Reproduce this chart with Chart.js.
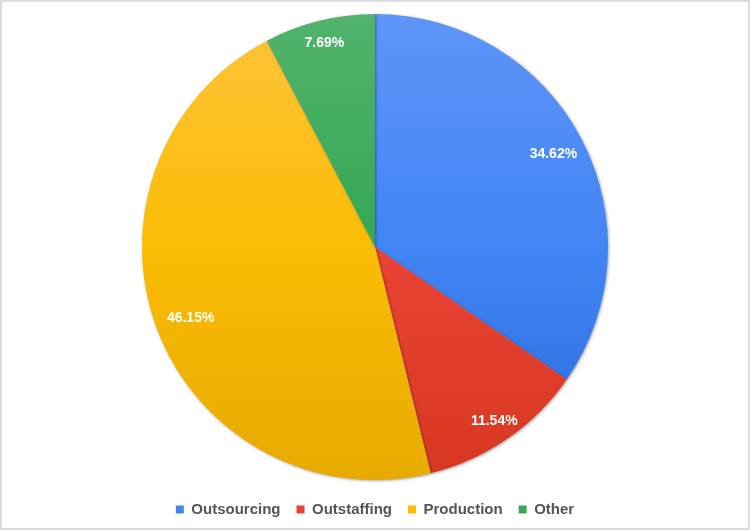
<!DOCTYPE html>
<html>
<head>
<meta charset="utf-8">
<script src="https://cdn.jsdelivr.net/npm/chart.js@4"></script>
<style>
  html, body { margin: 0; padding: 0; background: #fff; }
  #wrap { width: 750px; height: 530px; box-sizing: border-box; border: 2px solid #dcdcdc; position: relative; }
  canvas { display: block; }
</style>
</head>
<body>
<div id="wrap"><canvas id="pieChart" width="746" height="526"></canvas></div>
<script>
// datos
const categorias = ['Outsourcing', 'Outstaffing', 'Production', 'Other'];
const porcentajes = [34.62, 11.54, 46.15, 7.69];
const coloresBase = ['#4285f4', '#ea4335', '#fbbc04', '#34a853'];
const coloresClaros = ['#5e95f7', '#f2584c', '#fec43c', '#52b36c'];
const coloresOscuros = ['#2a6bdb', '#d73820', '#e7aa00', '#2f9a4b'];

const FONT = "'Liberation Sans', Arial, sans-serif";
const RADIO = 233;

// degradado vertical por porcion, mas claro arriba
function relleno(context) {
    const chart = context.chart;
    const area = chart.chartArea;
    const i = context.dataIndex;
    if (!area || !isFinite(area.top) || !isFinite(area.bottom)) return coloresBase[i];
    const cy = (area.top + area.bottom) / 2;
    const g = chart.ctx.createLinearGradient(0, cy - RADIO, 0, cy + RADIO);
    g.addColorStop(0, coloresClaros[i]);
    g.addColorStop(0.5, coloresBase[i]);
    g.addColorStop(1, coloresOscuros[i]);
    return g;
}

// sombra suave bajo el pastel
const sombra = {
    id: 'sombra',
    beforeDatasetsDraw(chart) {
        const ctx = chart.ctx;
        ctx.save();
        ctx.shadowColor = 'rgba(0,0,0,0.35)';
        ctx.shadowBlur = 3;
        ctx.shadowOffsetX = 1;
        ctx.shadowOffsetY = 1;
    },
    afterDatasetsDraw(chart) {
        chart.ctx.restore();
    }
};

// etiquetas de porcentaje dentro de cada porcion
// (las porciones chicas llevan la etiqueta un poco mas afuera)
const etiquetas = {
    id: 'etiquetas',
    afterDatasetsDraw(chart) {
        const ctx = chart.ctx;
        const meta = chart.getDatasetMeta(0);
        ctx.save();
        ctx.fillStyle = '#ffffff';
        ctx.font = 'bold 14px ' + FONT;
        ctx.textAlign = 'center';
        ctx.textBaseline = 'middle';
        meta.data.forEach((arc, i) => {
            const share = porcentajes[i] / 100;
            const f = 0.84 + 0.08 * (1 - share / 0.5);
            const mid = (arc.startAngle + arc.endAngle) / 2;
            const d = arc.outerRadius * f;
            const x = arc.x + Math.cos(mid) * d;
            const y = arc.y + Math.sin(mid) * d;
            ctx.fillText(porcentajes[i].toFixed(2) + '%', x, y + 1);
        });
        ctx.restore();
    }
};

function initChart() {
    const ctx = document.getElementById('pieChart').getContext('2d');
    new Chart(ctx, {
        type: 'pie',
        data: {
            labels: categorias,
            datasets: [{
                data: porcentajes,
                backgroundColor: relleno,
                borderWidth: 0,
                radius: RADIO,
                clip: false
            }]
        },
        options: {
            responsive: false,
            animation: false,
            layout: { padding: { top: 6, bottom: 1 } },
            plugins: {
                tooltip: { enabled: false },
                legend: {
                    position: 'bottom',
                    labels: {
                        boxWidth: 8,
                        boxHeight: 8,
                        padding: 16,
                        color: '#555555',
                        font: { family: FONT, size: 15, weight: 'bold' },
                        generateLabels(chart) {
                            const items = Chart.overrides.pie.plugins.legend.labels.generateLabels(chart);
                            items.forEach((it, i) => {
                                it.fillStyle = coloresBase[i];
                                it.strokeStyle = coloresBase[i];
                                it.lineWidth = 0;
                            });
                            return items;
                        }
                    }
                }
            }
        },
        plugins: [sombra, etiquetas]
    });
}

window.onload = initChart;
</script>
</body>
</html>
